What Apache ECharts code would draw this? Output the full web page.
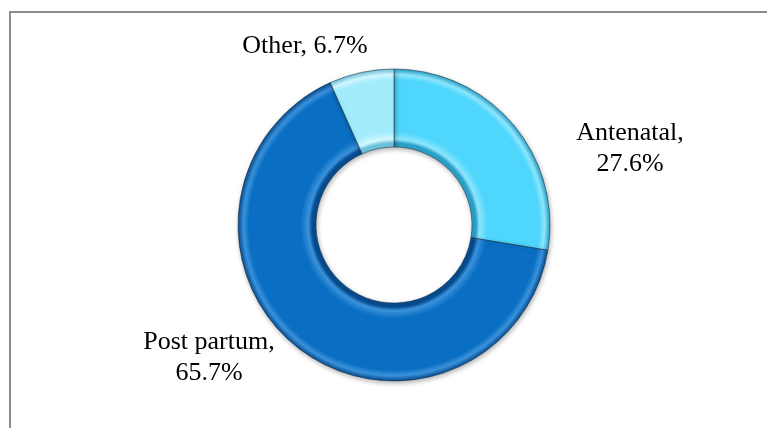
<!DOCTYPE html>
<html>
<head>
<meta charset="utf-8">
<script src="https://cdn.jsdelivr.net/npm/echarts@6/dist/echarts.min.js"></script>
<style>
  html, body { margin: 0; padding: 0; background: #fff; }
  #frame { position: absolute; left: 9px; top: 11px; width: 800px; height: 460px; border: 2px solid #8c8c8c; }
  #chart { position: absolute; left: 0; top: 0; width: 767px; height: 428px; }
</style>
</head>
<body>
<div id="frame"></div>
<div id="chart"></div>
<script>
const categories = ['Antenatal', 'Post partum', 'Other'];
const values = [27.6, 65.7, 6.7];
const baseColors = ['#4fd6fc', '#0a6fc2', '#a2ecfd'];
const darkColors = ['#2aa0c8', '#064c8e', '#6cc2da'];
const lightColors = ['#8de6fd', '#3a92dc', '#d2f8ff'];
// label anchor points (centre of each text block)
const labelPos = [[630, 149], [209, 358], [305, 46]];

const cx = 394, cy = 225, outerR = 156, innerR = 78;

function ringShade(i) {
  const f = innerR / outerR;
  return {
    type: 'radial', x: cx, y: cy, r: outerR, global: true,
    colorStops: [
      { offset: f, color: darkColors[i] },
      { offset: f + 0.025, color: darkColors[i] },
      { offset: f + 0.05, color: lightColors[i] },
      { offset: f + 0.1, color: baseColors[i] },
      { offset: 0.93, color: baseColors[i] },
      { offset: 0.965, color: lightColors[i] },
      { offset: 1, color: darkColors[i] }
    ]
  };
}

const chart = echarts.init(document.getElementById('chart'));
chart.setOption({
  animation: false,
  series: [{
    type: 'pie',
    center: [cx, cy],
    radius: [innerR, outerR],
    startAngle: 90,
    clockwise: true,
    data: categories.map((name, i) => ({
      name,
      value: values[i],
      itemStyle: { color: ringShade(i) }
    })),
    itemStyle: {
      borderColor: 'rgba(20,40,60,0.5)',
      borderWidth: 1,
      shadowBlur: 5,
      shadowColor: 'rgba(0,0,0,0.3)',
      shadowOffsetX: 1,
      shadowOffsetY: 2
    },
    label: {
      show: true,
      position: 'outside',
      fontFamily: 'Liberation Serif',
      fontSize: 26,
      color: '#000',
      lineHeight: 31,
      formatter: p => p.name === 'Other'
        ? p.name + ', ' + p.value + '%'
        : p.name + ',\n' + p.value + '%'
    },
    labelLine: { show: false },
    labelLayout: p => ({
      x: labelPos[p.dataIndex][0],
      y: labelPos[p.dataIndex][1],
      align: 'center',
      verticalAlign: 'middle'
    })
  }]
});
</script>
</body>
</html>
